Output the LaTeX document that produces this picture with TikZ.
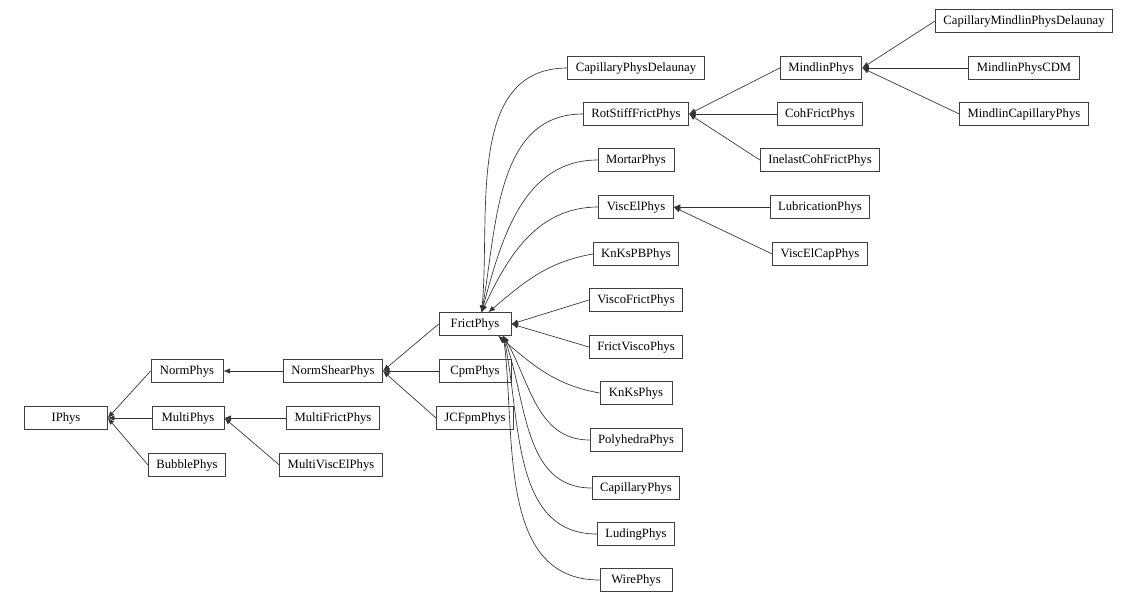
\documentclass[tikz,border=0pt]{standalone}
\usepackage{fontspec}
\setmainfont{Liberation Serif}
\usetikzlibrary{arrows.meta}
\begin{document}
\begin{tikzpicture}[x=0.75pt,y=-0.75pt,
		class node/.style={draw=black!75,line width=0.6pt,font=\fontsize{9.5}{11}\selectfont,
			minimum height=17pt,minimum width=54pt,inner xsep=6pt,inner ysep=0pt},
		inherit/.style={draw=black!80,line width=0.5pt,-{Latex[length=5pt,width=4pt]}}]
		\useasboundingbox (0,0) rectangle (1142,603);
		
		\node[class node,minimum width=62pt] (IPhys) at (66,418) {IPhys};
		\node[class node] (NormPhys) at (187,371) {NormPhys};
		\node[class node] (MultiPhys) at (188,418) {MultiPhys};
		\node[class node] (BubblePhys) at (187,465) {BubblePhys};
		\node[class node] (NormShearPhys) at (333,371) {NormShearPhys};
		\node[class node] (MultiFrictPhys) at (333,418) {MultiFrictPhys};
		\node[class node] (MultiViscElPhys) at (331,465) {MultiViscElPhys};
		\node[class node] (FrictPhys) at (475,324) {FrictPhys};
		\node[class node] (CpmPhys) at (475,371) {CpmPhys};
		\node[class node] (JCFpmPhys) at (475,418) {JCFpmPhys};
		\node[class node] (CapillaryPhysDelaunay) at (636,68) {CapillaryPhysDelaunay};
		\node[class node] (RotStiffFrictPhys) at (636,114) {RotStiffFrictPhys};
		\node[class node] (MortarPhys) at (636,160) {MortarPhys};
		\node[class node] (ViscElPhys) at (636,207) {ViscElPhys};
		\node[class node] (KnKsPBPhys) at (636,254) {KnKsPBPhys};
		\node[class node] (ViscoFrictPhys) at (636,300) {ViscoFrictPhys};
		\node[class node] (FrictViscoPhys) at (636,347) {FrictViscoPhys};
		\node[class node] (KnKsPhys) at (636,393) {KnKsPhys};
		\node[class node] (PolyhedraPhys) at (636,440) {PolyhedraPhys};
		\node[class node] (CapillaryPhys) at (636,488) {CapillaryPhys};
		\node[class node] (LudingPhys) at (636,534) {LudingPhys};
		\node[class node] (WirePhys) at (636,580) {WirePhys};
		\node[class node] (MindlinPhys) at (821,68) {MindlinPhys};
		\node[class node] (CohFrictPhys) at (820,114) {CohFrictPhys};
		\node[class node] (InelastCohFrictPhys) at (820,160) {InelastCohFrictPhys};
		\node[class node] (LubricationPhys) at (820,207) {LubricationPhys};
		\node[class node] (ViscElCapPhys) at (820,254) {ViscElCapPhys};
		\node[class node] (CapillaryMindlinPhysDelaunay) at (1024,21) {CapillaryMindlinPhysDelaunay};
		\node[class node] (MindlinPhysCDM) at (1024,68) {MindlinPhysCDM};
		\node[class node] (MindlinCapillaryPhys) at (1024,114) {MindlinCapillaryPhys};
		
		% straight inheritance links
		\foreach \child/\parent in {NormPhys/IPhys,MultiPhys/IPhys,BubblePhys/IPhys,
			NormShearPhys/NormPhys,MultiFrictPhys/MultiPhys,MultiViscElPhys/MultiPhys,
			FrictPhys/NormShearPhys,CpmPhys/NormShearPhys,JCFpmPhys/NormShearPhys,
			ViscoFrictPhys/FrictPhys,FrictViscoPhys/FrictPhys,
			MindlinPhys/RotStiffFrictPhys,CohFrictPhys/RotStiffFrictPhys,InelastCohFrictPhys/RotStiffFrictPhys,
			LubricationPhys/ViscElPhys,ViscElCapPhys/ViscElPhys,
			CapillaryMindlinPhysDelaunay/MindlinPhys,MindlinPhysCDM/MindlinPhys,MindlinCapillaryPhys/MindlinPhys}
			\draw[inherit] (\child.west) -- (\parent.east);
		
		% curved links into FrictPhys
		\draw[inherit] (CapillaryPhysDelaunay.west) to[out=180,in=85] ([xshift=5pt]FrictPhys.north);
		\draw[inherit] (RotStiffFrictPhys.west) to[out=180,in=80] ([xshift=5pt]FrictPhys.north);
		\draw[inherit] (MortarPhys.west) to[out=180,in=75] ([xshift=5pt]FrictPhys.north);
		\draw[inherit] (ViscElPhys.west) to[out=180,in=65] ([xshift=5pt]FrictPhys.north);
		\draw[inherit] (KnKsPBPhys.west) to[out=190,in=40] ([xshift=10pt]FrictPhys.north);
		\draw[inherit] (KnKsPhys.west) to[out=170,in=-40] ([xshift=-10pt]FrictPhys.south east);
		\draw[inherit] (PolyhedraPhys.west) to[out=180,in=-60] ([xshift=-6pt]FrictPhys.south east);
		\draw[inherit] (CapillaryPhys.west) to[out=180,in=-70] ([xshift=-6pt]FrictPhys.south east);
		\draw[inherit] (LudingPhys.west) to[out=180,in=-78] ([xshift=-6pt]FrictPhys.south east);
		\draw[inherit] (WirePhys.west) to[out=180,in=-83] ([xshift=-6pt]FrictPhys.south east);
	\end{tikzpicture}
\end{document}
